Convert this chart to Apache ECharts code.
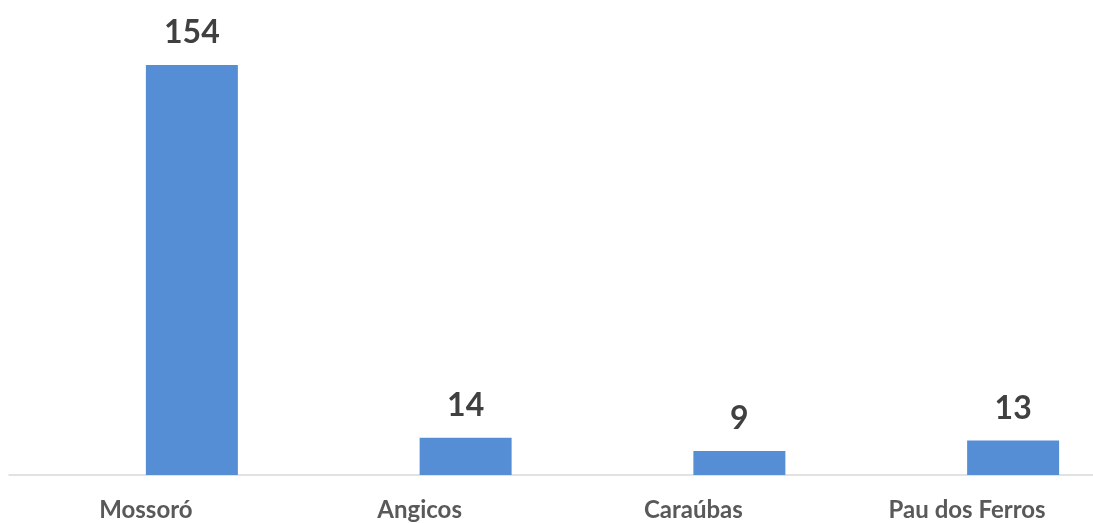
<!DOCTYPE html>
<html>
<head>
<meta charset="utf-8">
<script src="https://cdn.jsdelivr.net/npm/echarts@6/dist/echarts.min.js"></script>
<style>
  html, body { margin: 0; padding: 0; background: #ffffff; }
  #chart { width: 1093px; height: 523px; }
</style>
</head>
<body>
<div id="chart"></div>
<script>
// Campus names and counts
const categories = ['Mossoró', 'Angicos', 'Caraúbas', 'Pau dos Ferros'];
const counts = [154, 14, 9, 13];
// Empty companion series (the cluster keeps a slot for it, so bars sit right of centre)
const emptySlot = [null, null, null, null];

const chart = echarts.init(document.getElementById('chart'), null, { renderer: 'canvas' });

chart.setOption({
  animation: false,
  backgroundColor: '#ffffff',
  grid: {
    left: 9, width: 1095, top: 49, bottom: 48,
    containLabel: false,
    outerBoundsMode: 'none'
  },
  xAxis: {
    type: 'category',
    data: categories,
    axisLine: { show: true, lineStyle: { color: '#d9d9d9', width: 1.5 } },
    axisTick: { show: false },
    axisLabel: {
      color: '#595959',
      fontFamily: 'Lato, "Open Sans", sans-serif',
      fontWeight: 'bold',
      fontSize: 24,
      margin: 23
    },
    splitLine: { show: false }
  },
  yAxis: {
    type: 'value',
    min: 0,
    max: 160,
    show: false,
    splitLine: { show: false }
  },
  series: [
    {
      type: 'bar',
      data: emptySlot,
      barWidth: 92,
      barGap: '0%'
    },
    {
      type: 'bar',
      data: counts,
      barWidth: 92,
      barGap: '0%',
      itemStyle: { color: '#558ed5' },
      label: {
        show: true,
        position: 'top',
        distance: 16,
        color: '#404040',
        fontFamily: 'Lato, "Open Sans", sans-serif',
        fontWeight: 'bold',
        fontSize: 32
      }
    }
  ]
});
</script>
</body>
</html>
